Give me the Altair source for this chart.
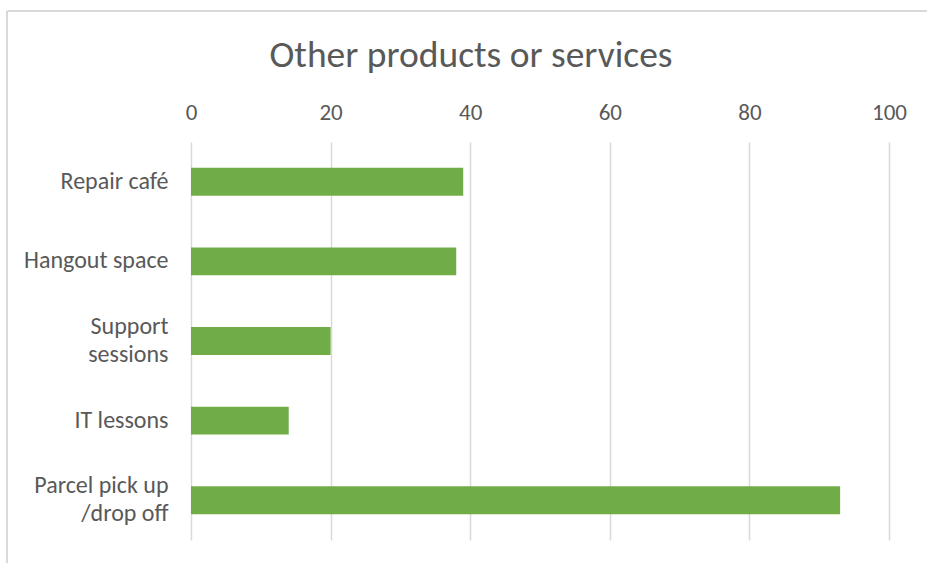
import altair as alt
import pandas as pd

categories = ["Repair café", "Hangout space", "Support\nsessions", "IT lessons", "Parcel pick up\n/drop off"]
values = [39, 38, 20, 14, 93]
x_ticks = [0, 20, 40, 60, 80, 100]
title_text = ["Other products or services"]

df = pd.DataFrame({"category": categories, "value": values})
title_df = pd.DataFrame({"t": title_text})

FONT = "Calibri, Carlito, Lato, sans-serif"
GREY = "#595959"
GRID = "#d9d9d9"

bars = alt.Chart(df).mark_bar(color="#70AD47").encode(
    x=alt.X(
        "value:Q",
        scale=alt.Scale(domain=[0, 100], nice=False),
        axis=alt.Axis(
            orient="top", values=x_ticks, title=None, domain=False, ticks=False,
            tickSize=0, labelPadding=18, labelFontSize=23, labelFont=FONT,
            labelColor=GREY, grid=True, gridColor=GRID, gridWidth=1.5,
            labelFlush=False, labelOverlap=False,
        ),
    ),
    y=alt.Y(
        "category:N",
        sort=categories,
        scale=alt.Scale(paddingInner=0.65, paddingOuter=0.325),
        axis=alt.Axis(
            title=None, domain=False, ticks=False, tickSize=0, labelPadding=23,
            labelFontSize=24, labelFont=FONT, labelColor=GREY, labelLineHeight=28,
            labelExpr="split(datum.label, '\\n')", labelLimit=300,
            labelOffset={"condition": {"test": "indexof(datum.value, '\\n') >= 0", "value": -14}, "value": 0},
        ),
    ),
)

title = alt.Chart(title_df).mark_text(
    font=FONT, fontSize=37.5, color=GREY, align="center", baseline="alphabetic"
).encode(x=alt.value(280), y=alt.value(-75), text="t:N")

border_left = alt.Chart(df).mark_rule(color=GRID, strokeWidth=1.5).encode(
    x=alt.value(-184), y=alt.value(-131), y2=alt.value(430)
)
border_top = alt.Chart(df).mark_rule(color=GRID, strokeWidth=1.5).encode(
    x=alt.value(-184), x2=alt.value(745), y=alt.value(-131)
)

chart = alt.layer(border_left, border_top, bars, title).properties(
    width=698,
    height=398,
    autosize=alt.AutoSizeParams(type="none"),
    padding={"left": 191, "top": 142, "right": 38, "bottom": 23},
).configure_view(stroke=None)

chart.save("out.html", embed_options={"renderer": "svg", "actions": False})
